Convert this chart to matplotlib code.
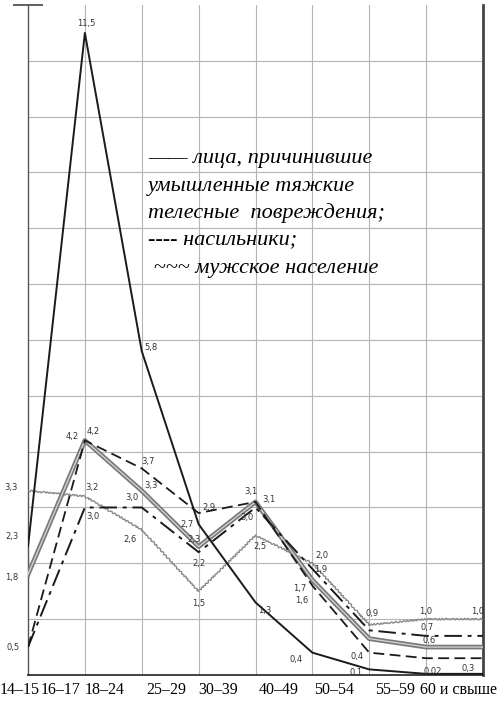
import matplotlib
matplotlib.use("Agg")
import matplotlib.pyplot as plt

# Возрастные группы
ages = ["14–15", "16–17", "18–24", "25–29", "30–39", "40–49", "50–54", "55–59", "60 и свыше"]

# Значения (в %)
tyazhkie = [2.3, 11.5, 5.8, 2.7, 1.3, 0.4, 0.1, 0.02, 0.02]   # сплошная
nasilniki = [0.5, 4.2, 3.7, 2.9, 3.1, 1.6, 0.4, 0.3, 0.3]     # пунктир
shtrikhpunktir = [0.5, 3.0, 3.0, 2.2, 3.0, 1.9, 0.8, 0.7, 0.7]
seraya = [1.8, 4.2, 3.3, 2.3, 3.1, 1.7, 0.65, 0.5, 0.5]
naselenie = [3.3, 3.2, 2.6, 1.5, 2.5, 2.0, 0.9, 1.0, 1.0]     # волнистая

# какие точки подписаны (None = без подписи) и сдвиг подписи в пикселях
lab_tyazhkie = ["2,3", "11,5", "5,8", "2,7", "1,3", "0,4", "0,1", "0,02", None]
off_tyazhkie = [(-16, 10), (1, 9), (9, 4), (-12, 0), (9, -8), (-16, -7), (-13, -3), (7, 2), None]
lab_nasilniki = ["0,5", "4,2", "3,7", "2,9", "3,1", "1,6", "0,4", None, "0,3"]
off_nasilniki = [(-15, 0), (8, 9), (6, 7), (10, 6), (13, 2), (-11, -15), (-12, -4), None, (-15, -10)]
lab_shp = [None, "3,0", "3,0", "2,2", "3,0", "1,9", None, "0,7", None]
off_shp = [None, (8, -9), (-10, 10), (0, -11), (-9, -10), (8, -1), None, (1, 8), None]
lab_ser = ["1,8", "4,2", "3,3", "2,3", "3,1", "1,7", None, "0,6", None]
off_ser = [(-16, -3), (-13, 4), (9, 5), (-5, 7), (-5, 10), (-13, -8), None, (3, 7), None]
lab_nas = ["3,3", "3,2", "2,6", "1,5", "2,5", "2,0", "0,9", "1,0", "1,0"]
off_nas = [(-17, 3), (7, 9), (-12, -10), (0, -12), (4, -11), (10, 8), (3, 11), (0, 8), (-5, 8)]

x = list(range(len(ages)))
label_x = [-0.14, 0.58, 1.35, 2.43, 3.34, 4.41, 5.39, 6.45, 7.57]

fig = plt.figure(figsize=(5.0, 7.02), dpi=100)
ax = fig.add_axes([0.056, 0.0385, 0.91, 0.9544])
ax.set_xlim(0, 8)
ax.set_ylim(0, 12)

# сетка
for gx in range(1, 8):
    ax.axvline(gx, color="#b4b4b4", lw=0.8, zorder=0)
for gy in range(1, 12):
    ax.axhline(gy, color="#b4b4b4", lw=0.8, zorder=0)

ax.spines["top"].set_visible(False)
ax.spines["left"].set_color("#555555")
ax.spines["left"].set_linewidth(1.0)
ax.spines["right"].set_color("#444444")
ax.spines["right"].set_linewidth(2.0)
ax.spines["bottom"].set_color("#222222")
ax.spines["bottom"].set_linewidth(1.2)
ax.set_xticks([])
ax.set_yticks([])
ax.plot([0], [1], marker="_", markersize=22, mew=1.2, color="#444444",
        transform=ax.transAxes, clip_on=False)

# линии
ax.plot(x, tyazhkie, color="#1a1a1a", lw=1.4, zorder=5)
ax.plot(x, nasilniki, color="#1a1a1a", lw=1.3, dashes=(6, 3), zorder=5)
ax.plot(x, shtrikhpunktir, color="#1a1a1a", lw=1.4, dashes=(9, 3, 2, 3), zorder=5)
ax.plot(x, seraya, color="#7a7a7a", lw=3.4, zorder=4)
ax.plot(x, seraya, color="#d6d6d6", lw=0.9, zorder=4)
wave, = ax.plot(x, naselenie, color="#8a8a8a", lw=1.0, zorder=3)
wave.set_sketch_params(scale=0.8, length=4, randomness=2)

def podpisi(vals, labs, offs):
    for xi, v, t, o in zip(x, vals, labs, offs):
        if t is None:
            continue
        ax.annotate(t, (xi, v), xytext=o, textcoords="offset pixels",
                    ha="center", va="center", fontsize=6, color="#333333",
                    annotation_clip=False, zorder=6)

podpisi(tyazhkie, lab_tyazhkie, off_tyazhkie)
podpisi(nasilniki, lab_nasilniki, off_nasilniki)
podpisi(shtrikhpunktir, lab_shp, off_shp)
podpisi(seraya, lab_ser, off_ser)
podpisi(naselenie, lab_nas, off_nas)

# подписи возрастов
for lx, t in zip(label_x, ages):
    ax.text(lx, -0.0225, t, transform=ax.get_xaxis_transform(), ha="center", va="center",
            fontsize=11.5, family="Liberation Serif")

# пояснения
leg = ["—— лица, причинившие", "умышленные тяжкие", "телесные  повреждения;",
       "---- насильники;", " ~~~ мужское население"]
leg_y = [158, 187, 213, 240, 268]
for t, yy in zip(leg, leg_y):
    fig.text(148 / 500, 1 - yy / 702, t, ha="left", va="center", fontsize=16,
             style="italic", family=["Liberation Serif", "DejaVu Serif"])

fig.savefig("out.png", dpi=100)
